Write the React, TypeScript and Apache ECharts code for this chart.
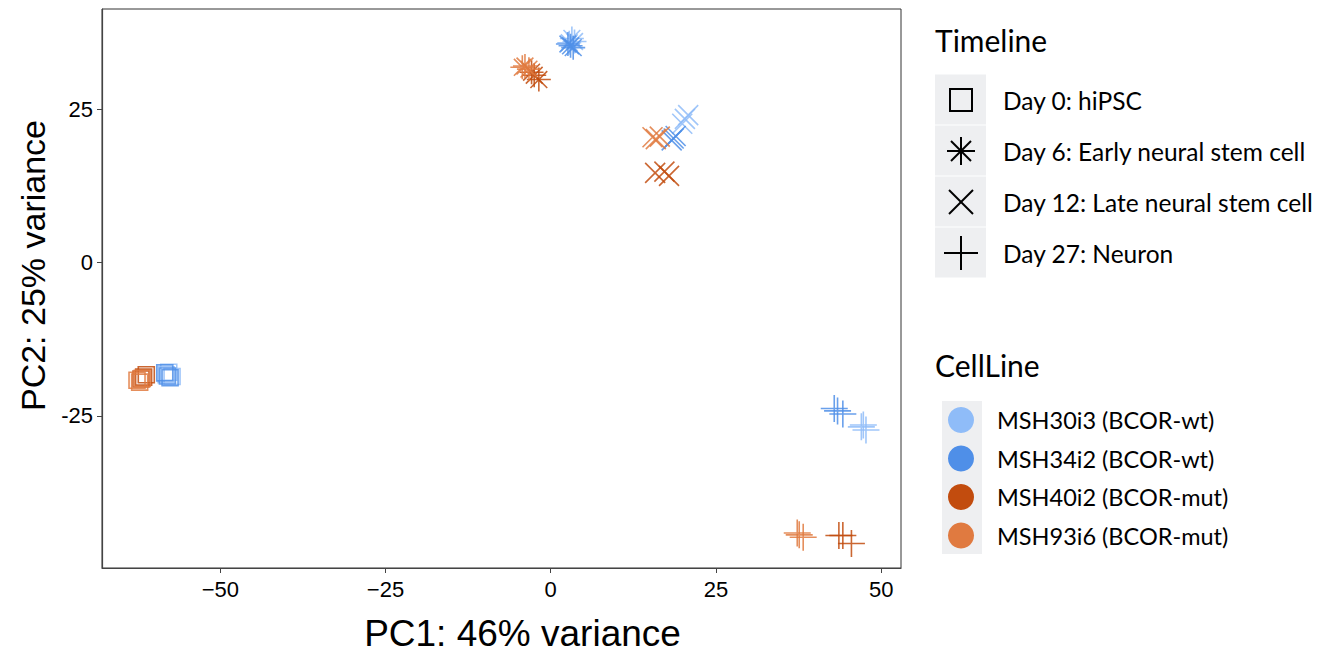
import React, { useEffect, useRef } from 'react';
import * as echarts from 'echarts';

// Categories
const cellLines = ['MSH30i3 (BCOR-wt)', 'MSH34i2 (BCOR-wt)', 'MSH40i2 (BCOR-mut)', 'MSH93i6 (BCOR-mut)'];
const cellColors = ['#8fbcf8', '#4f8fe8', '#c24c0e', '#e07a40'];
const timeline = ['Day 0: hiPSC', 'Day 6: Early neural stem cell', 'Day 12: Late neural stem cell', 'Day 27: Neuron'];

// Axis ticks
const xTicks = [-50, -25, 0, 25, 50];
const yTicks = [-25, 0, 25];

// PCA coordinates [PC1, PC2] per cell line, per day (day 0, 6, 12, 27)
const msh30i3 = [
  [[-57.8, -17.9], [-57.3, -18.6], [-58.2, -18.3]],
  [[3.2, 36.5], [2.8, 35.8], [3.6, 36.0]],
  [[20.3, 23.4], [20.8, 24.0], [19.9, 22.6]],
  [[47.3, -26.5], [47.7, -27.3], [47.0, -26.8]],
];
const msh34i2 = [
  [[-58.0, -18.5], [-58.4, -18.0], [-57.6, -18.8]],
  [[3.0, 35.3], [3.4, 35.0], [2.6, 35.6]],
  [[18.6, 20.2], [18.9, 20.6], [18.3, 19.9]],
  [[42.9, -23.8], [44.2, -24.7], [43.4, -24.2]],
];
const msh40i2 = [
  [[-61.6, -18.7], [-61.2, -18.3], [-62.0, -19.0]],
  [[-2.5, 30.5], [-1.8, 29.8], [-2.9, 31.0]],
  [[15.8, 14.6], [17.2, 14.8], [17.9, 14.1]],
  [[43.6, -44.5], [44.2, -44.5], [45.5, -45.8]],
];
const msh93i6 = [
  [[-62.6, -19.2], [-62.2, -19.5], [-61.8, -18.9]],
  [[-3.9, 32.0], [-3.3, 31.5], [-4.3, 31.8]],
  [[15.4, 20.4], [16.5, 20.5], [15.9, 20.1]],
  [[37.3, -44.1], [38.2, -44.8], [37.6, -44.4]],
];
const allPoints = [msh30i3, msh34i2, msh40i2, msh93i6];

const daySymbols = [
  'rect',
  'path://M0,10L20,10M10,0L10,20M3,3L17,17M17,3L3,17',
  'path://M0,0L20,20M20,0L0,20',
  'path://M0,10L20,10M10,0L10,20',
];
const daySizes = [16, 24, 20, 27];

const FONT_AXIS = '"Liberation Sans", Arial, sans-serif';
const FONT_LEG = 'Lato, "Open Sans", sans-serif';

function buildOption() {
  const series: any[] = [];
  allPoints.forEach((cl, i) => {
    cl.forEach((pts, d) => {
      series.push({
        type: 'scatter',
        name: cellLines[i] + ' ' + timeline[d],
        data: pts,
        symbol: daySymbols[d],
        symbolSize: daySizes[d],
        silent: true,
        itemStyle: {
          color: 'rgba(0,0,0,0)',
          borderColor: cellColors[i],
          borderWidth: 1.6,
          opacity: 0.85,
        },
        emphasis: { disabled: true },
      });
    });
  });

  const bg = '#eeeff1';
  const graphic: any[] = [];
  graphic.push({
    type: 'text', left: 935, top: 25,
    style: { text: 'Timeline', font: `30px ${FONT_LEG}`, fill: '#000' },
  });
  timeline.forEach((t, k) => {
    const cy = 100 + 51 * k;
    const cx = 961;
    graphic.push({ type: 'rect', shape: { x: 935, y: cy - 25.5, width: 51, height: 50 }, style: { fill: bg } });
    const st = { stroke: '#000', lineWidth: 2, fill: 'none' };
    if (k === 0) {
      graphic.push({ type: 'rect', shape: { x: cx - 11, y: cy - 11, width: 22, height: 22 }, style: st });
    } else if (k === 1) {
      const r = 14, q = 10;
      graphic.push({ type: 'line', shape: { x1: cx - r, y1: cy, x2: cx + r, y2: cy }, style: st });
      graphic.push({ type: 'line', shape: { x1: cx, y1: cy - r, x2: cx, y2: cy + r }, style: st });
      graphic.push({ type: 'line', shape: { x1: cx - q, y1: cy - q, x2: cx + q, y2: cy + q }, style: st });
      graphic.push({ type: 'line', shape: { x1: cx + q, y1: cy - q, x2: cx - q, y2: cy + q }, style: st });
    } else if (k === 2) {
      const q = 12;
      graphic.push({ type: 'line', shape: { x1: cx - q, y1: cy - q, x2: cx + q, y2: cy + q }, style: st });
      graphic.push({ type: 'line', shape: { x1: cx + q, y1: cy - q, x2: cx - q, y2: cy + q }, style: st });
    } else {
      const r = 17;
      graphic.push({ type: 'line', shape: { x1: cx - r, y1: cy, x2: cx + r, y2: cy }, style: st });
      graphic.push({ type: 'line', shape: { x1: cx, y1: cy - r, x2: cx, y2: cy + r }, style: st });
    }
    graphic.push({
      type: 'text', x: 1003, y: cy,
      style: { text: t, font: `24.5px ${FONT_LEG}`, fill: '#000', verticalAlign: 'middle' },
    });
  });

  graphic.push({
    type: 'text', left: 935, top: 350,
    style: { text: 'CellLine', font: `30px ${FONT_LEG}`, fill: '#000' },
  });
  graphic.push({ type: 'rect', shape: { x: 942, y: 401, width: 40, height: 153 }, style: { fill: bg } });
  cellLines.forEach((c, k) => {
    const cy = 420 + 38.5 * k;
    graphic.push({ type: 'circle', shape: { cx: 961, cy, r: 13 }, style: { fill: cellColors[k] } });
    graphic.push({
      type: 'text', x: 997, y: cy,
      style: { text: c, font: `23.5px ${FONT_LEG}`, fill: '#000', verticalAlign: 'middle' },
    });
  });

  return {
    animation: false,
    backgroundColor: '#fff',
    grid: {
      left: 102, top: 9, width: 799, height: 559,
      outerBoundsMode: 'none',
      containLabel: false,
      show: true, borderColor: '#333', borderWidth: 1, backgroundColor: 'transparent',
    },
    xAxis: {
      type: 'value', min: -67.9, max: 53.0,
      name: 'PC1: 46% variance', nameLocation: 'middle', nameGap: 47,
      nameTextStyle: { fontSize: 37, color: '#000', fontFamily: FONT_AXIS, padding: [0, 0, 0, 42] },
      axisLine: { show: true, onZero: false, lineStyle: { color: '#444', width: 1.2 } },
      axisTick: { show: true, length: 5, customValues: xTicks, lineStyle: { color: '#444' } },
      axisLabel: {
        customValues: xTicks, fontSize: 22, color: '#000', fontFamily: FONT_AXIS, margin: 10,
        formatter: (v: number) => (v < 0 ? '\u2212' + Math.abs(v) : String(v)),
      },
      splitLine: { show: false },
    },
    yAxis: {
      type: 'value', min: -49.8, max: 41.3,
      name: 'PC2: 25% variance', nameLocation: 'middle', nameGap: 51, nameRotate: 90,
      nameTextStyle: { fontSize: 34, color: '#000', fontFamily: FONT_AXIS, padding: [0, 0, 0, 46] },
      axisLine: { show: true, onZero: false, lineStyle: { color: '#444', width: 1.2 } },
      axisTick: { show: true, length: 5, customValues: yTicks, lineStyle: { color: '#444' } },
      axisLabel: {
        customValues: yTicks, fontSize: 22, color: '#000', fontFamily: FONT_AXIS, margin: 9,
        formatter: (v: number) => (v < 0 ? '-' + Math.abs(v) : String(v)),
      },
      splitLine: { show: false },
    },
    series,
    graphic,
  };
}

export default function App() {
  const ref = useRef<HTMLDivElement>(null);
  useEffect(() => {
    if (!ref.current) return;
    const chart = echarts.init(ref.current, null, { renderer: 'svg' });
    chart.setOption(buildOption() as any);
    return () => chart.dispose();
  }, []);
  return (
    <div
      ref={ref}
      style={{ position: 'fixed', left: 0, top: 0, width: 1335, height: 654, background: '#fff' }}
    />
  );
}
